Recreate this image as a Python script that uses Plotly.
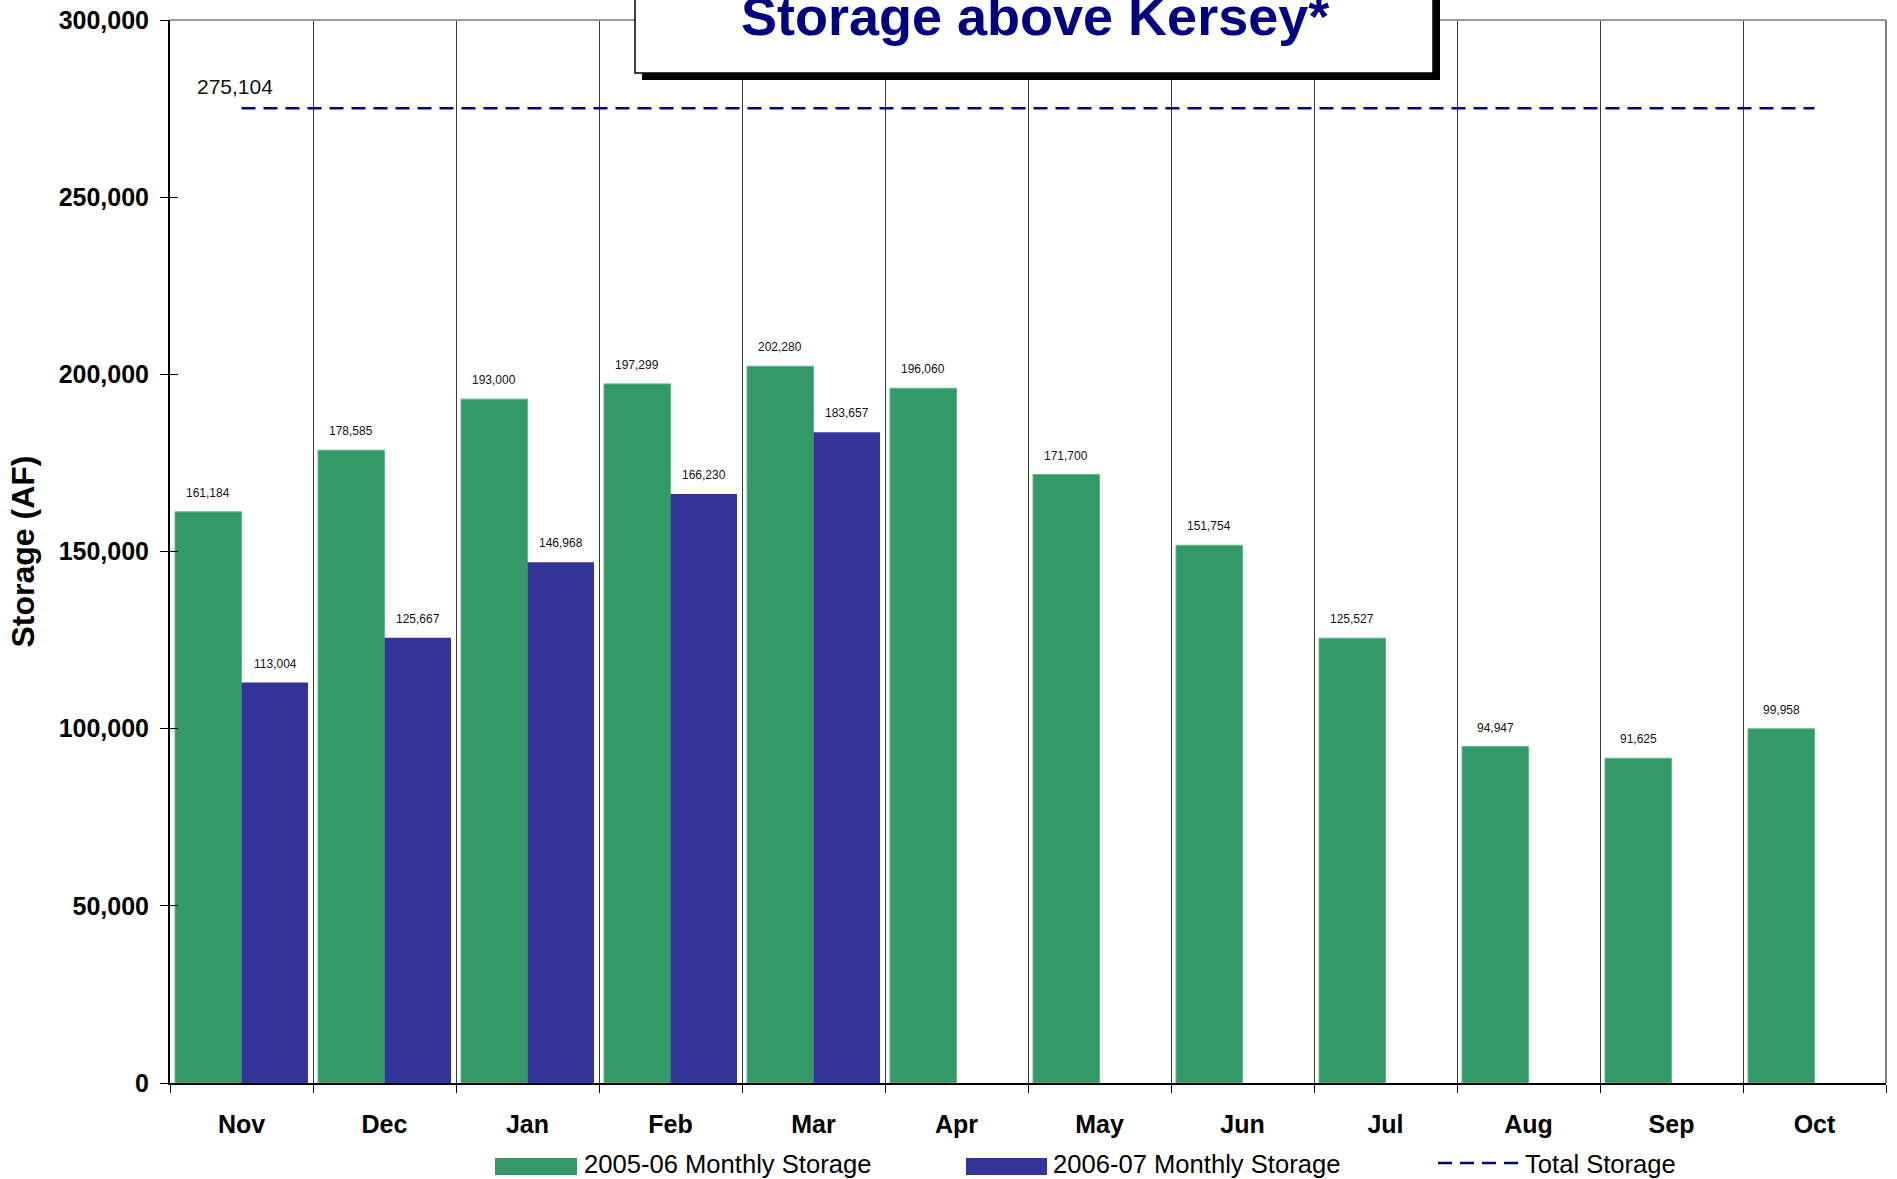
import plotly.graph_objects as go

meses = ['Nov', 'Dec', 'Jan', 'Feb', 'Mar', 'Apr', 'May', 'Jun', 'Jul', 'Aug', 'Sep', 'Oct']
storage_2005_06 = [161184, 178585, 193000, 197299, 202280, 196060, 171700, 151754, 125527, 94947, 91625, 99958]
storage_2006_07 = [113004, 125667, 146968, 166230, 183657, None, None, None, None, None, None, None]
total_storage = 275104

FONT = 'Liberation Sans, Arial, sans-serif'
VERDE = '#339966'
AZUL = '#333399'
NAVY = '#000080'

# plot area in pixels
W, H = 1897, 1179
L, R, T, B = 170, 1886, 20, 1083


def px_x(x):
    return (x - L) / (R - L)


def px_y(y):
    return (B - y) / (B - T)


fig = go.Figure()

fig.add_trace(go.Bar(
    x=meses, y=storage_2005_06, name='2005-06 Monthly Storage',
    marker=dict(color=VERDE, line=dict(color='#5cb88a', width=1)),
    showlegend=False
))
fig.add_trace(go.Bar(
    x=meses, y=storage_2006_07, name='2006-07 Monthly Storage',
    marker=dict(color=AZUL, line=dict(width=0)),
    showlegend=False
))
fig.add_trace(go.Scatter(
    x=meses, y=[total_storage] * len(meses), name='Total Storage',
    mode='lines', line=dict(color=NAVY, width=2.5, dash='14px,8px'),
    showlegend=False
))
# inside half of the crossing y ticks
fig.add_trace(go.Scatter(x=[None], y=[None], yaxis='y2', showlegend=False))

annotations = []
# data labels
for serie, shift in ((storage_2005_06, -33.5), (storage_2006_07, 33.5)):
    for mes, v in zip(meses, serie):
        if v is None:
            continue
        annotations.append(dict(
            x=mes, y=v, xref='x', yref='y', text=f'{v:,}', showarrow=False,
            xshift=shift, yshift=19, yanchor='middle',
            font=dict(family=FONT, size=12, color='#111111')
        ))
annotations.append(dict(
    x=meses[0], y=total_storage, text=f'{total_storage:,}', showarrow=False,
    xshift=-7, yshift=22, yanchor='middle',
    font=dict(family=FONT, size=21, color='#111111')
))

shapes = [
    # top and right border
    dict(type='line', xref='paper', yref='paper', x0=0, x1=1, y0=1, y1=1,
         line=dict(color='#9a9a9a', width=2)),
    dict(type='line', xref='paper', yref='paper', x0=1, x1=1, y0=0, y1=1,
         line=dict(color='#808080', width=2)),
    # title box with shadow
    dict(type='rect', xref='paper', yref='paper', x0=px_x(642), x1=px_x(1440),
         y0=px_y(80), y1=px_y(-20), fillcolor='black', line=dict(width=0)),
    dict(type='rect', xref='paper', yref='paper', x0=px_x(635), x1=px_x(1433),
         y0=px_y(73), y1=px_y(-20), fillcolor='white', line=dict(color='black', width=1.5)),
]

annotations.append(dict(
    xref='paper', yref='paper', x=px_x(1035), y=px_y(16), text='<b>Storage above Kersey*</b>',
    showarrow=False, xanchor='center', yanchor='middle',
    font=dict(family=FONT, size=54, color=NAVY)
))

# legend drawn by hand (wide swatches like the original)
leg_y0, leg_y1 = 1158, 1175
for x0, x1, color in ((495, 577, VERDE), (966, 1047, AZUL)):
    shapes.append(dict(type='rect', xref='paper', yref='paper', x0=px_x(x0), x1=px_x(x1),
                       y0=px_y(leg_y1), y1=px_y(leg_y0), fillcolor=color, line=dict(width=0)))
shapes.append(dict(type='line', xref='paper', yref='paper', x0=px_x(1438), x1=px_x(1518),
                   y0=px_y(1163), y1=px_y(1163), line=dict(color=NAVY, width=2.5, dash='14px,8px')))
for x, txt in ((582, '2005-06 Monthly Storage'), (1051, '2006-07 Monthly Storage'), (1523, 'Total Storage')):
    annotations.append(dict(
        xref='paper', yref='paper', x=px_x(x), y=px_y(1164), text=txt, showarrow=False,
        xanchor='left', yanchor='middle', font=dict(family=FONT, size=25.6, color='black')
    ))

fig.update_layout(
    width=W, height=H,
    margin=dict(l=L, r=W - R, t=T, b=H - B, pad=0, autoexpand=False),
    paper_bgcolor='white', plot_bgcolor='white',
    barmode='group', bargap=0.07, bargroupgap=0,
    font=dict(family=FONT, color='black'),
    xaxis=dict(
        type='category', tickson='boundaries', showgrid=True, gridcolor='#3a3a3a', gridwidth=1,
        showline=True, linecolor='black', linewidth=2, automargin=False,
        ticks='outside', ticklen=8, tickcolor='black', tickwidth=1,
        tickfont=dict(family=FONT, size=25, color='black', weight='bold'),
        ticklabelstandoff=18
    ),
    yaxis=dict(
        title=dict(text='<b>Storage (AF)</b>', font=dict(family=FONT, size=32, color='black'), standoff=14),
        range=[0, 300000], dtick=50000, tickformat=',', showgrid=False, zeroline=False,
        showline=True, linecolor='black', linewidth=2, automargin=False,
        ticks='outside', ticklen=8, tickcolor='black', tickwidth=1,
        tickfont=dict(family=FONT, size=25, color='black', weight='bold'),
        ticklabelstandoff=6
    ),
    yaxis2=dict(
        overlaying='y', side='left', range=[0, 300000], dtick=50000, showgrid=False,
        zeroline=False, showline=False, showticklabels=False, automargin=False,
        ticks='inside', ticklen=8, tickcolor='black', tickwidth=1
    ),
    shapes=shapes, annotations=annotations
)

fig.write_html('out.html', config={'displayModeBar': False},
               post_script="document.body.style.margin='0';document.body.style.overflow='hidden';")
